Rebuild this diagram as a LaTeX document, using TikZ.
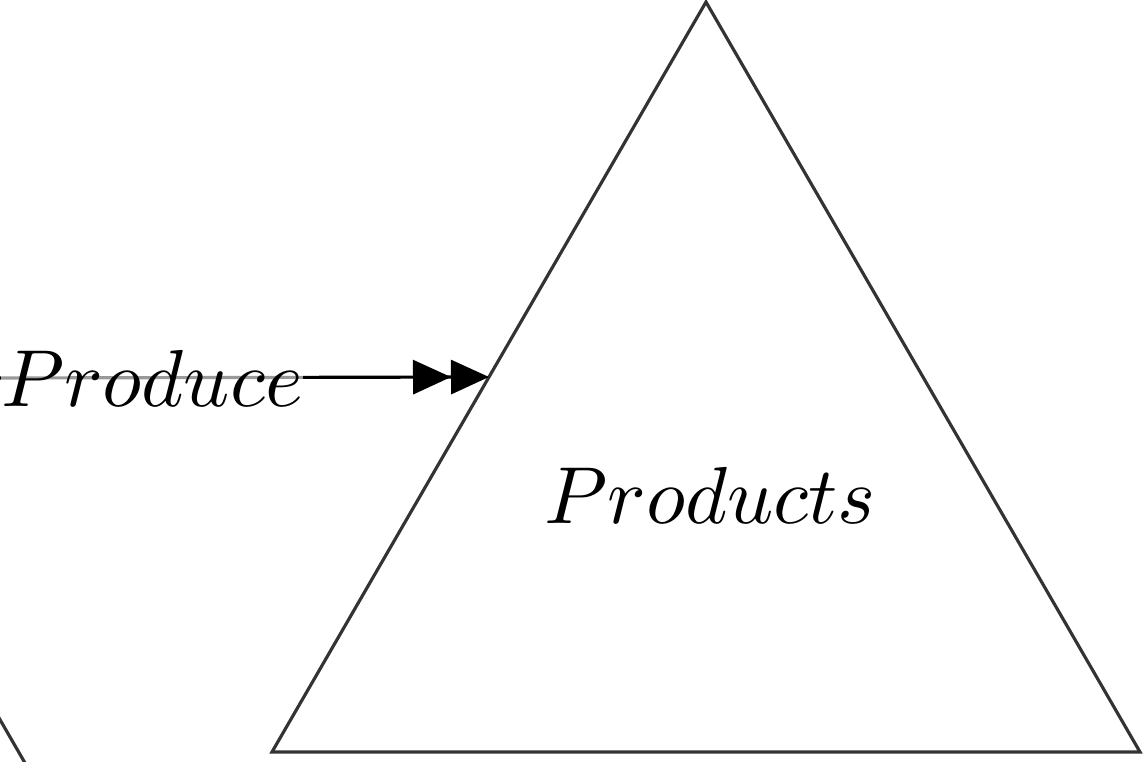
\documentclass[tikz,border=0pt]{standalone}
\usetikzlibrary{arrows.meta,calc}
\begin{document}
\begin{tikzpicture}[scale=1,
        edge/.style={line width=0.9pt,color=black!80},
        twohead/.style={line width=0.9pt,-{Triangle[length=3.8mm,width=3.4mm,sep=0pt]Triangle[length=3.8mm,width=3.4mm]}},
        lbl/.style={scale=2.30,transform shape,inner sep=0pt,fill=white,fill opacity=0.6,text opacity=1}]

\useasboundingbox (0,0) rectangle (11.45,7.62);
\clip (0,0) rectangle (11.45,7.62);

\coordinate (top) at (7.06,7.60);
\coordinate (left) at (2.72,0.10);
\coordinate (right) at (11.40,0.10);
\coordinate (in) at ($(top)!0.5!(left)$);
\coordinate (src) at (-0.1,3.84);

\draw[edge] (top) -- (left) -- (right) -- cycle;
\node[lbl] (products) at (7.10,2.67) {$Products$};

\draw[edge] (-0.2,0.77) -- (0.4,-0.27);

\draw[twohead] (src) -- (in);
\node[lbl] (produce) at (1.52,3.84) {$Produce$};
\end{tikzpicture}
\end{document}
